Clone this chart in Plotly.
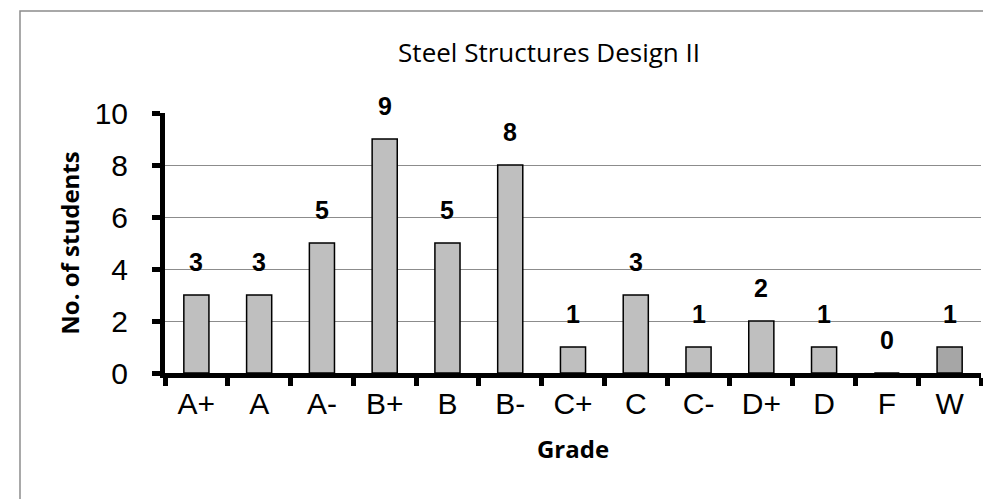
import plotly.graph_objects as go

grades = ["A+", "A", "A-", "B+", "B", "B-", "C+", "C", "C-", "D+", "D", "F", "W"]
students = [3, 3, 5, 9, 5, 8, 1, 3, 1, 2, 1, 0, 1]

colores = ["#bfbfbf"] * (len(grades) - 1) + ["#a6a6a6"]

fig = go.Figure()
fig.add_trace(go.Bar(
    x=grades, y=students,
    marker=dict(color=colores, line=dict(color="black", width=1.5)),
    width=0.4,
))

# etiquetas de valor sobre cada barra
for g, n in zip(grades, students):
    fig.add_annotation(x=g, y=n, text="<b>%d</b>" % n, showarrow=False,
                       yanchor="bottom", yshift=17,
                       font=dict(family="Liberation Sans, Arial", size=25, color="black"))

fig.update_layout(
    width=991, height=499,
    margin=dict(l=157, r=18, t=105, b=134),
    plot_bgcolor="white", paper_bgcolor="white",
    showlegend=False,
    title=dict(text="Steel Structures Design II", x=0.546, xanchor="center", y=0.91, yanchor="middle",
               font=dict(family="Open Sans", size=26, color="black")),
    bargap=0.6,
)

fig.update_xaxes(
    showline=True, linecolor="black", linewidth=5,
    ticks="outside", tickson="boundaries", ticklen=8, tickwidth=5, tickcolor="black",
    ticklabelstandoff=0,
    tickfont=dict(family="Liberation Sans, Arial", size=30, color="black"),
    title=dict(text="<b>Grade</b>", font=dict(family="Open Sans", size=24, color="black"), standoff=24),
)
fig.update_yaxes(
    range=[0, 10], dtick=2,
    showline=True, linecolor="black", linewidth=5,
    showgrid=True, gridcolor="#8c8c8c", gridwidth=1,
    ticks="outside", ticklen=8, tickwidth=5, tickcolor="black",
    ticklabelstandoff=18,
    tickfont=dict(family="Liberation Sans, Arial", size=30, color="black"),
    title=dict(text="<b>No. of students</b>", font=dict(family="Open Sans", size=24, color="black"), standoff=10),
    zeroline=False,
)

# marco exterior (solo se ven arriba e izquierda, el resto queda fuera)
fig.add_shape(type="rect", xref="paper", yref="paper",
              x0=-0.1777, x1=1.04, y0=-0.56, y1=1.392,
              line=dict(color="#8c8c8c", width=1.5), layer="below")

fig.write_html("out.html")
